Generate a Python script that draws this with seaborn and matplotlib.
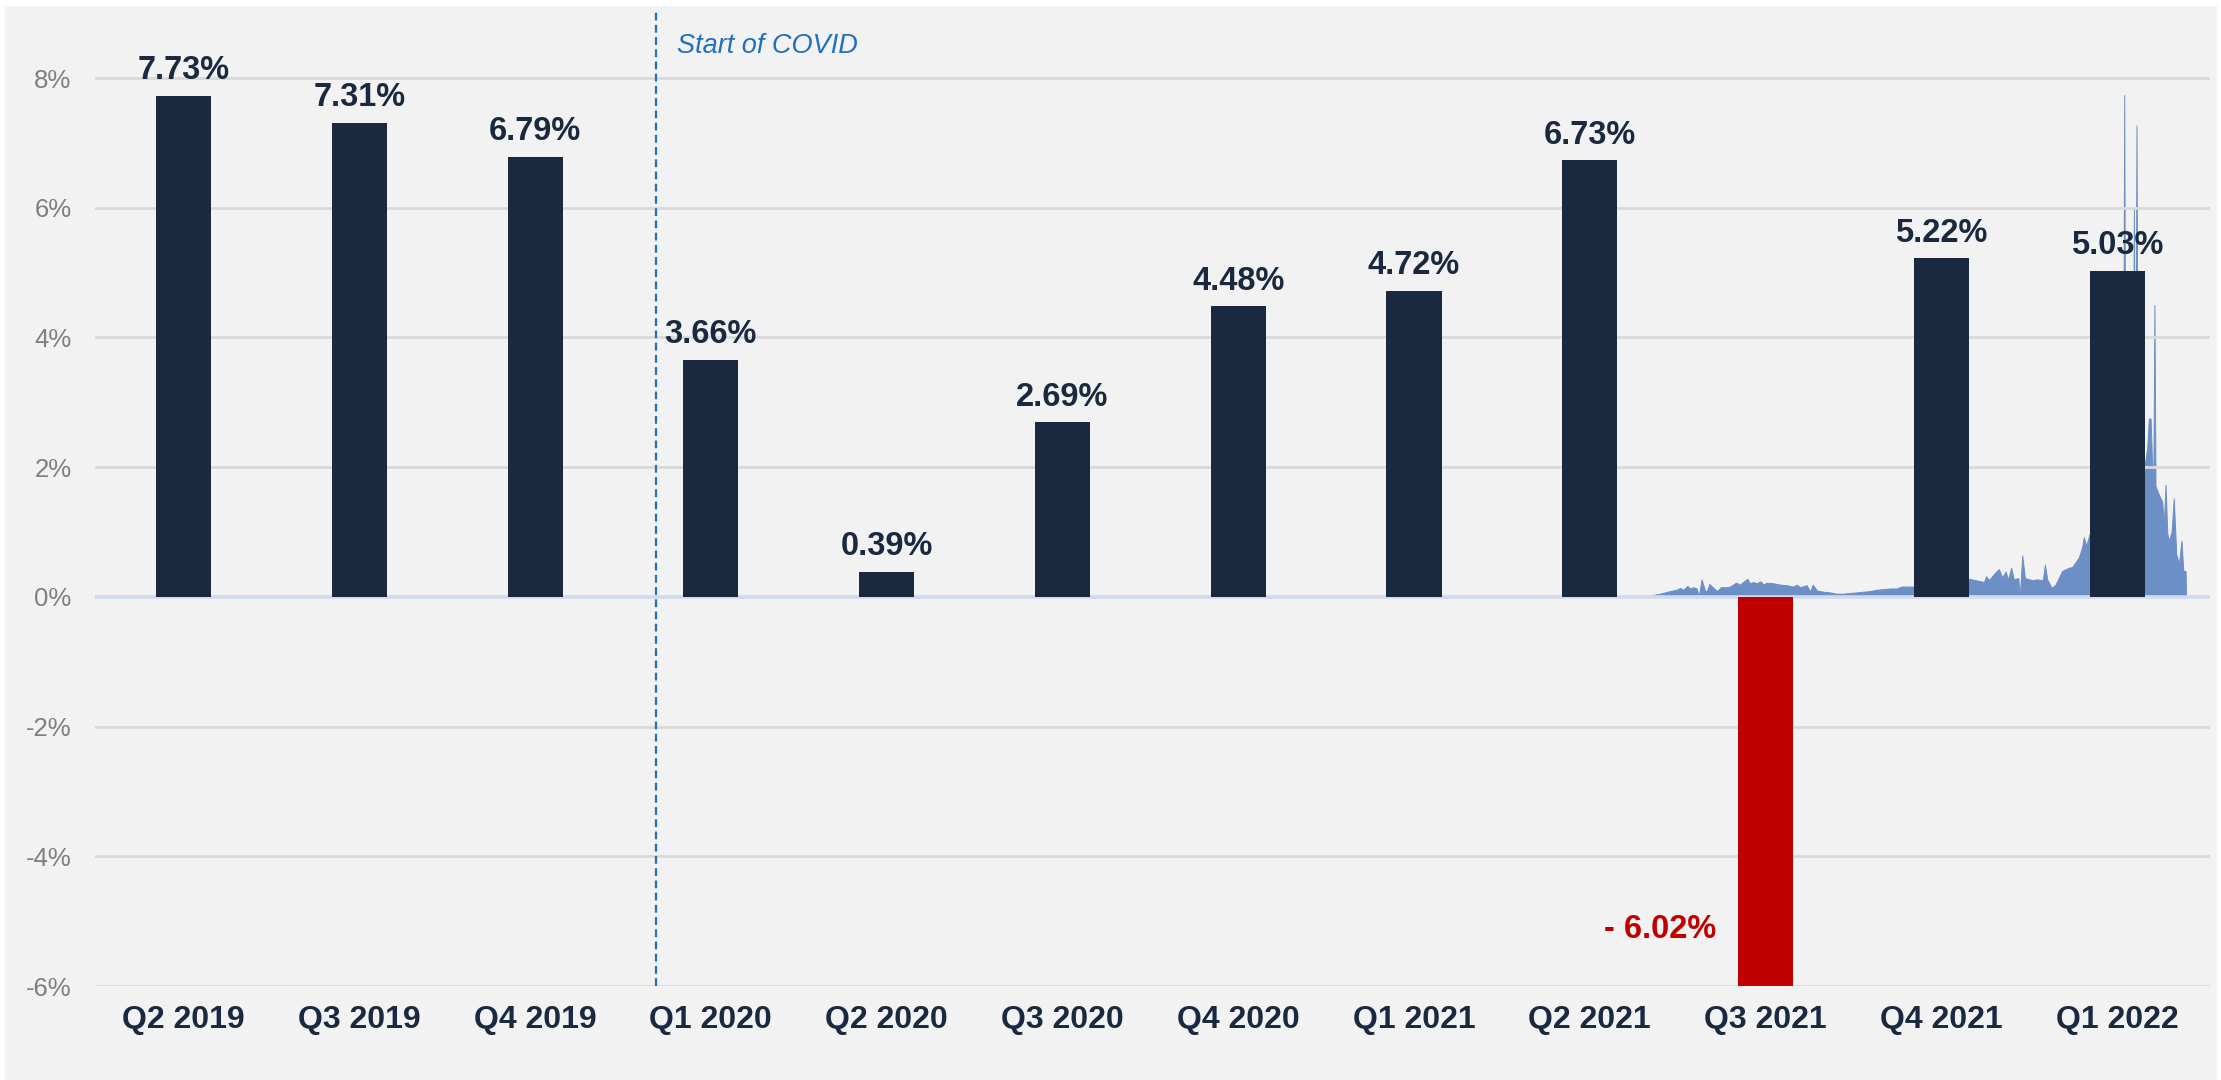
import matplotlib
matplotlib.use("Agg")
import matplotlib.pyplot as plt
from matplotlib.patches import Rectangle
import seaborn as sns

# dados dos trimestres
quarters = ["Q2 2019", "Q3 2019", "Q4 2019", "Q1 2020", "Q2 2020", "Q3 2020",
            "Q4 2020", "Q1 2021", "Q2 2021", "Q3 2021", "Q4 2021", "Q1 2022"]
growth = [7.73, 7.31, 6.79, 3.66, 0.39, 2.69, 4.48, 4.72, 6.73, -6.02, 5.22, 5.03]
growth_labels = ["7.73%", "7.31%", "6.79%", "3.66%", "0.39%", "2.69%",
                 "4.48%", "4.72%", "6.73%", "- 6.02%", "5.22%", "5.03%"]

y_ticks = [-6, -4, -2, 0, 2, 4, 6, 8]
y_tick_labels = ["-6%", "-4%", "-2%", "0%", "2%", "4%", "6%", "8%"]

covid_pos = 2.69
covid_text = "Start of COVID"

# serie em area (posicao no eixo das categorias, valor em %)
area_pos = [8.285, 8.342, 8.399, 8.456, 8.494, 8.513, 8.532, 8.555, 8.570, 8.589,
            8.608, 8.621, 8.636, 8.655, 8.665, 8.680, 8.703, 8.725, 8.745, 8.779,
            8.798, 8.832, 8.854, 8.896, 8.911, 8.930, 8.949, 8.972, 8.987, 9.006,
            9.044, 9.082, 9.120, 9.158, 9.177, 9.196, 9.234, 9.253, 9.268, 9.291,
            9.328, 9.366, 9.404, 9.442, 9.480, 9.518, 9.556, 9.594, 9.632, 9.670,
            9.708, 9.745, 9.774, 9.803, 9.840,
            9.92, 10.0, 10.08, 10.156, 10.242, 10.255, 10.270, 10.308, 10.327, 10.346,
            10.365, 10.380, 10.397, 10.412, 10.437, 10.446, 10.460, 10.475, 10.517, 10.545,
            10.577, 10.589, 10.602, 10.627, 10.649, 10.687, 10.725, 10.744, 10.782, 10.801,
            10.810, 10.824, 10.844, 10.90, 10.95, 11.0, 11.034, 11.040, 11.046, 11.09,
            11.095, 11.101, 11.104, 11.110, 11.116, 11.155, 11.171, 11.180, 11.190, 11.199,
            11.206, 11.212, 11.218, 11.237, 11.256, 11.266, 11.275, 11.285, 11.294, 11.309,
            11.322, 11.336, 11.351, 11.366, 11.376, 11.389, 11.392]
area_val = [0.005, 0.02, 0.05, 0.09, 0.11, 0.14, 0.11, 0.17, 0.13, 0.15,
            0.13, 0.02, 0.27, 0.10, 0.08, 0.20, 0.14, 0.09, 0.15, 0.15,
            0.16, 0.22, 0.19, 0.28, 0.21, 0.23, 0.21, 0.24, 0.19, 0.22,
            0.21, 0.19, 0.18, 0.16, 0.19, 0.15, 0.18, 0.08, 0.19, 0.10,
            0.08, 0.07, 0.05, 0.05, 0.06, 0.07, 0.08, 0.09, 0.11, 0.12,
            0.13, 0.13, 0.16, 0.16, 0.16,
            0.18, 0.22, 0.25, 0.28, 0.23, 0.32, 0.26, 0.38, 0.43, 0.30,
            0.39, 0.27, 0.45, 0.27, 0.29, 0.01, 0.64, 0.29, 0.26, 0.27,
            0.26, 0.50, 0.27, 0.14, 0.19, 0.40, 0.45, 0.46, 0.61, 0.77,
            0.92, 0.79, 0.98, 1.3, 1.7, 2.2, 2.6, 7.74, 2.6, 2.7,
            6.0, 2.7, 2.8, 7.27, 2.8, 2.0, 2.3, 2.75, 2.75, 2.0,
            1.9, 4.5, 1.71, 1.58, 1.47, 1.13, 1.73, 0.98, 0.87, 1.0,
            1.52, 0.66, 0.51, 0.87, 0.40, 0.40, 0.0]

navy = "#1b2940"
red = "#c00000"
bg = "#f2f2f2"

sns.set_style("white")
plt.rcParams["font.family"] = ["Liberation Sans", "DejaVu Sans"]

fig = plt.figure(figsize=(22.21, 10.8), dpi=100)
fig.patch.set_facecolor("white")
fig.patches.append(Rectangle((5 / 2221, 0), 2211 / 2221, 1074 / 1080,
                             transform=fig.transFigure, color=bg, zorder=-10))
ax = fig.add_axes([95 / 2221, 1 - 986 / 1080, 2115 / 2221, 976 / 1080])
ax.set_facecolor(bg)

bar_colors = [red if v < 0 else navy for v in growth]
sns.barplot(x=quarters, y=growth, hue=quarters, palette=bar_colors, width=0.313,
            saturation=1, legend=False, ax=ax)
for p in ax.patches:
    p.set_zorder(3)
    p.set_linewidth(0)

# area por tras das barras
ax.fill_between(area_pos, area_val, 0, facecolor="#6c8fc5", edgecolor="#6c8fc5",
                linewidth=0.7, zorder=1)

# linhas de grade
for t in y_ticks:
    if t == 0:
        ax.axhline(t, color="#cfdbec", linewidth=2.6, zorder=2)
    else:
        ax.axhline(t, color="#d9d9d9", linewidth=2, zorder=2)

# linha do inicio da COVID
ax.axvline(covid_pos, color="#2070c0", linestyle=(0, (3.5, 2)), linewidth=1.6, zorder=2)
ax.text(covid_pos + 0.12, 8.5, covid_text, color="#2070c0", fontsize=19.5,
        style="italic", ha="left", va="center")

# rotulos dos valores
for i, (v, lab) in enumerate(zip(growth, growth_labels)):
    if v >= 0:
        ax.text(i, v + 0.15, lab, ha="center", va="bottom", fontsize=23.5,
                fontweight="bold", color=navy, zorder=4)
    else:
        ax.text(i - 0.28, -5.13, lab, ha="right", va="center", fontsize=23.5,
                fontweight="bold", color=red, zorder=4)

ax.set_xlim(-0.503, 11.528)
ax.set_ylim(-6, 9.05)
ax.set_yticks(y_ticks)
ax.set_yticklabels(y_tick_labels, fontsize=18.5, color="#7f7f7f")
ax.tick_params(axis="y", length=0, pad=17)
ax.tick_params(axis="x", length=0, pad=14)
for lab in ax.get_xticklabels():
    lab.set_fontsize(23)
    lab.set_fontweight("bold")
    lab.set_color(navy)
ax.set_xlabel("")
ax.set_ylabel("")
sns.despine(ax=ax, left=True, bottom=True)

fig.savefig("out.png", dpi=100, facecolor=fig.get_facecolor())
